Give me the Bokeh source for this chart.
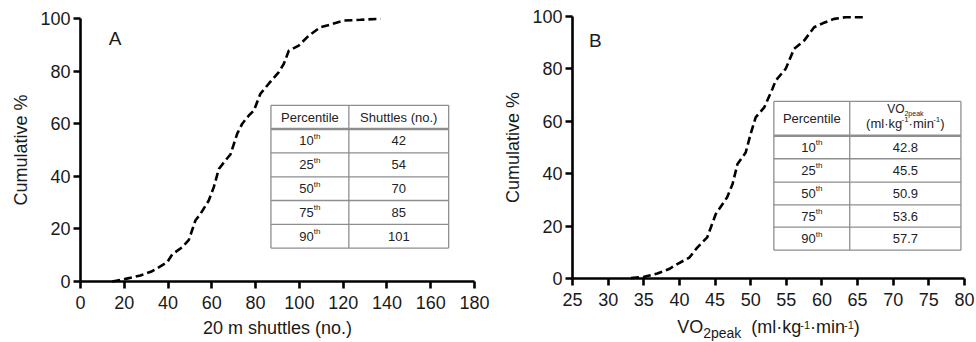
from bokeh.plotting import figure
from bokeh.layouts import row
from bokeh.models import Range1d, Label, FixedTicker
from bokeh.embed import file_html
from bokeh.resources import INLINE

# Cumulative distribution of 20 m shuttle-run performance
shuttles = [14.5, 20.6, 27.4, 32.7, 39.6, 41.9, 46.4, 49.5, 52.5, 54.8, 58.6, 60.9,
            63.2, 66.2, 68.5, 71.6, 73.9, 76.9, 79.2, 82.2, 86.0, 90.6, 92.9, 95.2,
            99.7, 104.3, 109.6, 114.2, 120.3, 127.9, 137.1]
shuttles_cum = [0.0, 1.0, 2.3, 3.9, 7.3, 10.3, 13.0, 15.8, 23.2, 25.7, 30.8, 35.9,
                42.8, 46.0, 48.3, 56.2, 60.0, 63.1, 65.0, 71.4, 75.2, 79.6, 82.8, 87.8,
                89.7, 93.5, 96.7, 97.7, 99.2, 99.5, 99.9]

# Cumulative distribution of VO2peak
vo2 = [33.2, 35.05, 36.9, 38.55, 39.7, 41.4, 42.5, 43.9, 45.1, 46.7, 47.45, 48.15,
       49.3, 50.0, 50.7, 51.9, 53.06, 53.5, 54.9, 56.1, 57.5, 58.9, 60.1, 61.7, 63.3, 65.9]
vo2_cum = [0.15, 0.65, 1.9, 3.6, 5.5, 8.0, 11.8, 15.7, 24.6, 31.0, 36.0, 43.7,
           48.1, 55.2, 61.5, 65.3, 72.4, 75.5, 80.0, 87.7, 90.8, 95.9, 97.4, 99.1, 99.7, 99.7]

# Percentile tables
percentiles = ["10", "25", "50", "75", "90"]
shuttle_percentile_values = ["42", "54", "70", "85", "101"]
vo2_percentile_values = ["42.8", "45.5", "50.9", "53.6", "57.7"]

shuttle_ticks = [0, 20, 40, 60, 80, 100, 120, 140, 160, 180]
vo2_ticks = [25, 30, 35, 40, 45, 50, 55, 60, 65, 70, 75, 80]
cum_ticks = [0, 20, 40, 60, 80, 100]

FONT = "Liberation Sans"
INK = "#1a1a1a"
TABLE_INK = "#222222"
RULE = "#8e8e8e"
HEIGHT = 342

# Advance widths (em) of Liberation Sans / Arial, for composing sub/superscripts
ADV = {"V": .667, "O": .778, "2": .556, "p": .556, "e": .556, "a": .556, "k": .5,
       "(": .333, ")": .333, "m": .833, "l": .222, "\u00b7": .278, "g": .556,
       "-": .333, "1": .556, "i": .222, "n": .556, "t": .278, "h": .556, " ": .278}


def text_width(s, size):
    return sum(ADV.get(c, .556) for c in s) * size


def compose(p, x, y, runs, base_dy, color=INK):
    """Centre runs of (text, size_px, raise_px) side by side on one anchor point."""
    total = sum(text_width(t, s) for t, s, _ in runs)
    cur = -total / 2
    for t, s, dy in runs:
        if t.strip():
            p.add_layout(Label(x=x, y=y, x_offset=cur, y_offset=base_dy + dy, text=t,
                               text_font=FONT, text_font_size=f"{s}px", text_color=color,
                               text_align="left", text_baseline="middle"))
        cur += text_width(t, s)


def style_axis(ax, label_standoff, axis_label_standoff):
    ax.axis_line_width = 2.6
    ax.axis_line_color = "black"
    ax.major_tick_line_width = 2.6
    ax.major_tick_line_color = "black"
    ax.major_tick_out = 7
    ax.major_tick_in = 0
    ax.minor_tick_line_color = None
    ax.major_label_text_font = FONT
    ax.major_label_text_font_size = "18px"
    ax.major_label_text_color = INK
    ax.major_label_standoff = label_standoff
    ax.axis_label_text_font = FONT
    ax.axis_label_text_font_size = "18px"
    ax.axis_label_text_font_style = "normal"
    ax.axis_label_text_color = INK
    ax.axis_label_standoff = axis_label_standoff


def panel(x_lim, x_ticks, width, left, right, top, zero_px):
    """The frame fills the whole canvas; both axes are pinned inside it.
    left/right: canvas pixels outside the x span; top: pixels above y = 100;
    zero_px: canvas row of y = 0."""
    x0, x1 = x_lim
    sx = (width - left - right) / (x1 - x0)
    sy = (zero_px - top) / 100.0
    p = figure(width=width, height=HEIGHT,
               x_range=Range1d(x0 - left / sx, x1 + right / sx),
               y_range=Range1d(-(HEIGHT - zero_px) / sy, 100 + top / sy),
               output_backend="svg", toolbar_location=None,
               min_border=0, min_border_left=0, min_border_right=0,
               min_border_top=0, min_border_bottom=0)
    p.outline_line_color = None
    p.xgrid.visible = False
    p.ygrid.visible = False
    p.xaxis.ticker = FixedTicker(ticks=x_ticks)
    p.xaxis.fixed_location = 0
    p.xaxis.bounds = (x0, x1)
    p.yaxis.ticker = FixedTicker(ticks=cum_ticks)
    p.yaxis.fixed_location = x0
    p.yaxis.bounds = (0, 100)
    style_axis(p.xaxis[0], 7, 6)
    style_axis(p.yaxis[0], 3, 6)
    p.yaxis.axis_label = "Cumulative %"
    return p


def draw_table(p, xs, ys):
    x0, xm, x1 = xs
    p.quad(left=x0, right=x1, bottom=ys[-1], top=ys[0], fill_color="white", line_color=None)
    # horizontal rules (the one under the header is heavier)
    p.segment(x0=[x0] * len(ys), y0=ys, x1=[x1] * len(ys), y1=ys,
              line_color=RULE, line_width=[2.4 if i == 1 else 1.3 for i in range(len(ys))])
    # vertical rules
    p.segment(x0=[x0, xm, x1], y0=[ys[-1]] * 3, x1=[x0, xm, x1], y1=[ys[0]] * 3,
              line_color=RULE, line_width=1.3)


def cell_text(p, x, y, text):
    p.add_layout(Label(x=x, y=y, text=text, text_font=FONT, text_font_size="13px",
                       text_color=TABLE_INK, text_align="center", text_baseline="middle"))


def fill_rows(p, xs, ys, values):
    c1 = (xs[0] + xs[1]) / 2
    c2 = (xs[1] + xs[2]) / 2
    for i, (pct, val) in enumerate(zip(percentiles, values)):
        cy = (ys[i + 1] + ys[i + 2]) / 2
        compose(p, c1, cy, [(pct, 13, 0), ("th", 8, 4.5)], 0, color=TABLE_INK)
        cell_text(p, c2, cy, val)


def panel_letter(p, x, y, letter):
    p.add_layout(Label(x=x, y=y, text=letter, text_font=FONT, text_font_size="19px",
                       text_color=INK, text_baseline="middle"))


# ---- Panel A: 20 m shuttles ----
pa = panel((0, 180), shuttle_ticks, 492, 80, 18, 18, 281)
pa.xaxis.axis_label = "20 m shuttles (no.)"
pa.line(shuttles, shuttles_cum, line_color="black", line_width=2.6, line_dash="8 4")
panel_letter(pa, 12.9, 92.3, "A")

a_xs = [87.0, 122.6, 168.2]
a_ys = [67.0, 58.0, 48.9, 39.8, 30.8, 21.7, 12.7]
draw_table(pa, a_xs, a_ys)
cell_text(pa, (a_xs[0] + a_xs[1]) / 2, (a_ys[0] + a_ys[1]) / 2, "Percentile")
cell_text(pa, (a_xs[1] + a_xs[2]) / 2, (a_ys[0] + a_ys[1]) / 2, "Shuttles (no.)")
fill_rows(pa, a_xs, a_ys, shuttle_percentile_values)

# ---- Panel B: VO2peak ----
pb = panel((25, 80), vo2_ticks, 484, 80, 12, 16, 278)
pb.line(vo2, vo2_cum, line_color="black", line_width=2.6, line_dash="8 4")
panel_letter(pb, 27.33, 90.9, "B")

# x-axis title with subscript and superscripts, centred under the axis
compose(pb, 52.5, 0,
        [("VO", 18, 0), ("2peak", 14, -6.4), ("  ", 18, 0), ("(ml\u00b7kg", 18, 0),
         ("-1", 11, 1.2), ("\u00b7min", 18, 0), ("-1", 11, 1.2), (")", 18, 0)],
        -48)

b_xs = [53.25, 63.9, 79.5]
b_ys = [67.6, 54.5, 45.7, 36.8, 28.1, 19.6, 10.8]
draw_table(pb, b_xs, b_ys)
cell_text(pb, (b_xs[0] + b_xs[1]) / 2, (b_ys[0] + b_ys[1]) / 2, "Percentile")
hx = (b_xs[1] + b_xs[2]) / 2
compose(pb, hx, b_ys[0], [("VO", 12, 0), ("2peak", 7, -4.3)], -7.5, color=TABLE_INK)
compose(pb, hx, b_ys[0], [("(ml\u00b7kg", 13, 0), ("-1", 8, 3.5), ("\u00b7min", 13, 0),
                          ("-1", 8, 3.5), (")", 13, 0)], -22, color=TABLE_INK)
fill_rows(pb, b_xs, b_ys, vo2_percentile_values)

layout = row(pa, pb)
open("out.html", "w").write(file_html(layout, INLINE))
